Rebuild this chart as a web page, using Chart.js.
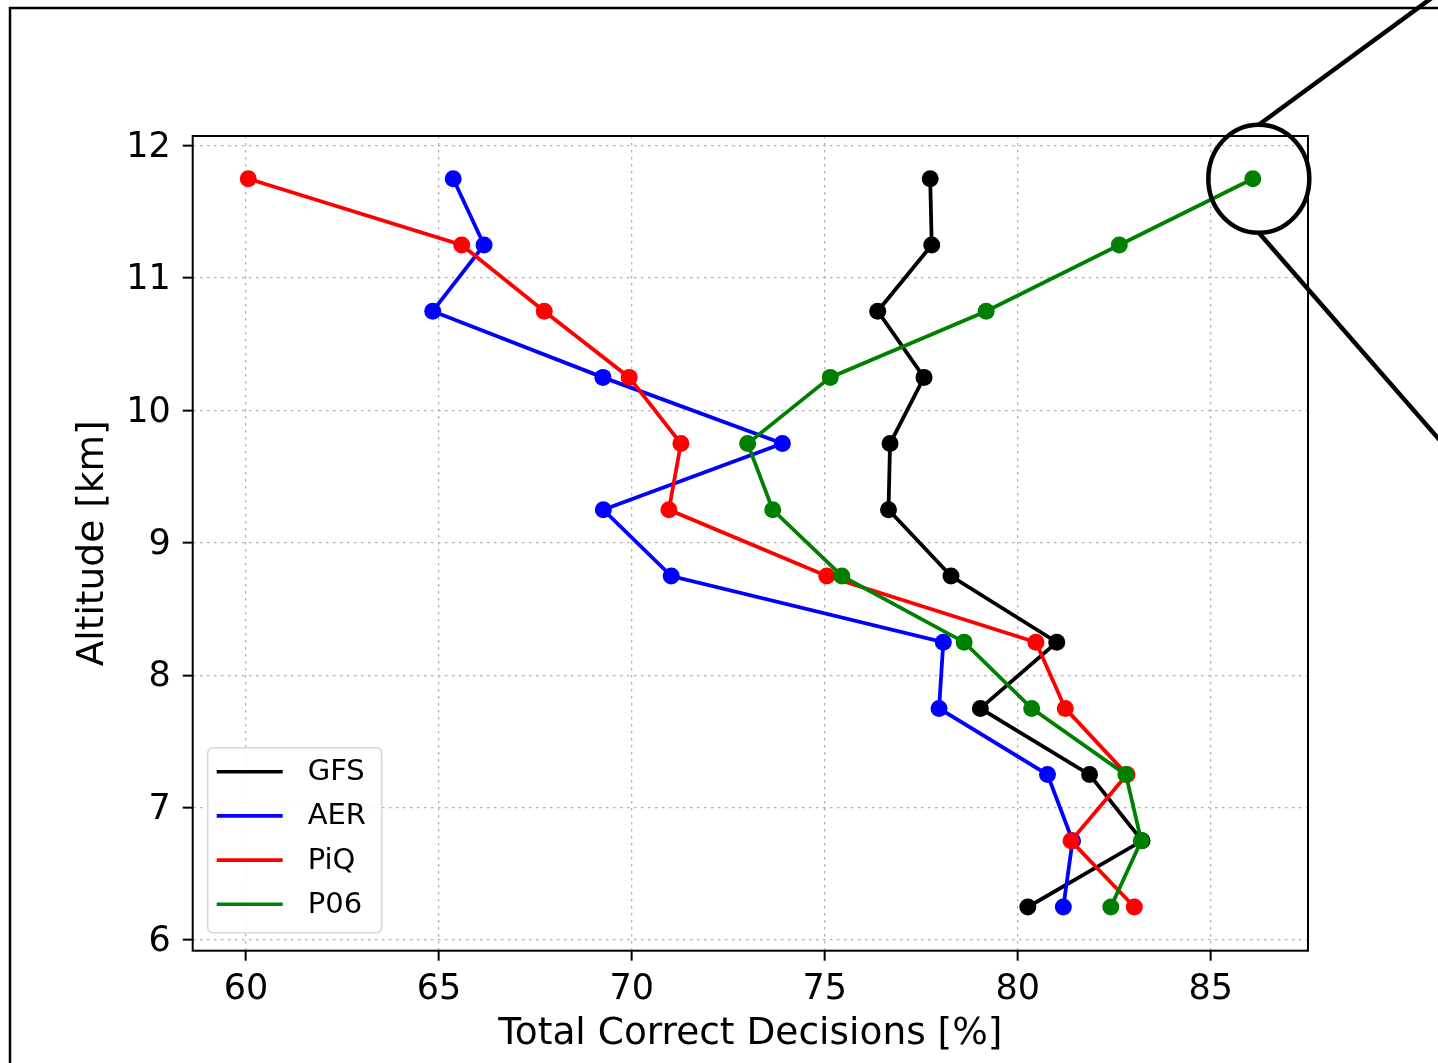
<!DOCTYPE html>
<html>
<head>
<meta charset="utf-8">
<title>Total Correct Decisions by Altitude</title>
<script src="https://cdn.jsdelivr.net/npm/chart.js@4/dist/chart.umd.min.js"></script>
<style>
  html, body { margin: 0; padding: 0; background: #ffffff; }
  #wrap { width: 1438px; height: 1063px; position: relative; }
  canvas { display: block; }
</style>
</head>
<body>
<div id="wrap"><canvas id="chart" width="1438" height="1063"></canvas></div>
<script>
// Altitude levels (km), top to bottom
const altitudes = [11.75, 11.25, 10.75, 10.25, 9.75, 9.25, 8.75, 8.25, 7.75, 7.25, 6.75, 6.25];

// Total correct decisions (%) per product at each altitude
const gfs = [77.73, 77.77, 76.37, 77.57, 76.69, 76.65, 78.27, 81.01, 79.03, 81.86, 83.22, 80.26];
const aer = [65.37, 66.17, 64.84, 69.25, 73.90, 69.26, 71.02, 78.07, 77.96, 80.77, 81.42, 81.18];
const piq = [60.06, 65.59, 67.73, 69.93, 71.27, 70.96, 75.05, 80.47, 81.23, 82.83, 81.38, 83.02];
const p06 = [86.09, 82.63, 79.18, 75.14, 73.00, 73.65, 75.44, 78.61, 80.36, 82.80, 83.20, 82.41];

const seriesNames = ['GFS', 'AER', 'PiQ', 'P06'];
const seriesColors = ['#000000', '#0000ff', '#ff0000', '#008000'];
const seriesValues = [gfs, aer, piq, p06];

// Axis tick values
const xTicks = [60, 65, 70, 75, 80, 85];
const yTicks = [6, 7, 8, 9, 10, 11, 12];

const FONT = 'DejaVu Sans';

const datasets = seriesNames.map((name, i) => ({
  label: name,
  data: altitudes.map((a, j) => ({ x: seriesValues[i][j], y: a })),
  showLine: true,
  borderColor: seriesColors[i],
  backgroundColor: seriesColors[i],
  borderWidth: 3.8,
  pointRadius: 8.5,
  pointHoverRadius: 8.5,
  pointBorderWidth: 0,
  fill: false,
  tension: 0,
  order: seriesNames.length - i
}));

// Box around the plot area, legend with frame, and the callout circle
const decorations = {
  id: 'decorations',
  afterDraw(chart) {
    const { ctx, chartArea: ca, scales } = chart;
    ctx.save();

    // plot frame
    ctx.strokeStyle = '#000';
    ctx.lineWidth = 2;
    ctx.setLineDash([]);
    ctx.strokeRect(ca.left, ca.top, ca.right - ca.left, ca.bottom - ca.top);

    // legend
    const lx = ca.left + 15, lw = 174, lh = 185;
    const ly = ca.bottom - 18 - lh;
    const r = 6;
    ctx.beginPath();
    ctx.moveTo(lx + r, ly);
    ctx.lineTo(lx + lw - r, ly);
    ctx.quadraticCurveTo(lx + lw, ly, lx + lw, ly + r);
    ctx.lineTo(lx + lw, ly + lh - r);
    ctx.quadraticCurveTo(lx + lw, ly + lh, lx + lw - r, ly + lh);
    ctx.lineTo(lx + r, ly + lh);
    ctx.quadraticCurveTo(lx, ly + lh, lx, ly + lh - r);
    ctx.lineTo(lx, ly + r);
    ctx.quadraticCurveTo(lx, ly, lx + r, ly);
    ctx.closePath();
    ctx.fillStyle = 'rgba(255,255,255,0.85)';
    ctx.fill();
    ctx.strokeStyle = '#d6d6d6';
    ctx.lineWidth = 1.5;
    ctx.stroke();

    ctx.font = '29px "' + FONT + '"';
    ctx.textBaseline = 'middle';
    ctx.textAlign = 'left';
    chart.data.datasets.forEach((ds, i) => {
      const y = ly + 24 + i * 44.2;
      ctx.strokeStyle = ds.borderColor;
      ctx.lineWidth = 3.6;
      ctx.beginPath();
      ctx.moveTo(lx + 9, y);
      ctx.lineTo(lx + 75, y);
      ctx.stroke();
      ctx.fillStyle = '#000';
      ctx.fillText(ds.label, lx + 100, y + 1);
    });

    // callout circle around the top P06 point
    const cx = scales.x.getPixelForValue(p06[0]) + 6;
    const cy = scales.y.getPixelForValue(altitudes[0]);
    const rx = 50.5, ry = 54;
    ctx.strokeStyle = '#000';
    ctx.lineWidth = 4.5;
    ctx.beginPath();
    ctx.ellipse(cx, cy, rx, ry, 0, 0, Math.PI * 2);
    ctx.stroke();
    ctx.beginPath();
    ctx.moveTo(cx, cy - ry);
    ctx.lineTo(cx + 240, cy - ry - 176);
    ctx.stroke();
    ctx.beginPath();
    ctx.moveTo(cx, cy + ry);
    ctx.lineTo(cx + 240, cy + ry + 275);
    ctx.stroke();

    // outer frame
    ctx.lineWidth = 2.5;
    ctx.strokeRect(10, 8, 1460, 1080);
    ctx.restore();
  }
};

const tickFont = { family: FONT, size: 35 };
const titleFont = { family: FONT, size: 37.5 };

new Chart(document.getElementById('chart'), {
  type: 'scatter',
  data: { datasets },
  options: {
    responsive: false,
    animation: false,
    devicePixelRatio: 1,
    layout: { padding: { left: 0, top: 136, right: 130, bottom: 0 } },
    plugins: {
      legend: { display: false },
      tooltip: { enabled: false }
    },
    scales: {
      x: {
        type: 'linear',
        position: 'bottom',
        min: 58.62,
        max: 87.52,
        afterFit(scale) { scale.height = 112.3; },
        afterBuildTicks(scale) { scale.ticks = xTicks.map(v => ({ value: v })); },
        ticks: {
          font: tickFont,
          color: '#000',
          padding: 8,
          maxRotation: 0,
          includeBounds: false,
          callback: v => String(v)
        },
        grid: {
          color: '#b0b0b0',
          lineWidth: 1.3,
          tickColor: '#000',
          tickWidth: 2,
          tickLength: 10,
          tickBorderDash: []
        },
        border: { display: false, dash: [2.5, 4.5] },
        title: {
          display: true,
          text: 'Total Correct Decisions [%]',
          font: titleFont,
          color: '#000',
          padding: { top: 0, bottom: 6.5 }
        }
      },
      y: {
        type: 'linear',
        position: 'left',
        min: 5.92,
        max: 12.073,
        afterFit(scale) { scale.width = 192.7; },
        afterBuildTicks(scale) { scale.ticks = yTicks.map(v => ({ value: v })); },
        ticks: {
          font: tickFont,
          color: '#000',
          padding: 12,
          labelOffset: 2,
          includeBounds: false,
          callback: v => String(v)
        },
        grid: {
          color: '#b0b0b0',
          lineWidth: 1.3,
          tickColor: '#000',
          tickWidth: 2,
          tickLength: 10,
          tickBorderDash: []
        },
        border: { display: false, dash: [2.5, 4.5] },
        title: {
          display: true,
          text: 'Altitude [km]',
          font: titleFont,
          color: '#000',
          padding: { top: 71, bottom: 0 }
        }
      }
    }
  },
  plugins: [decorations]
});
</script>
</body>
</html>
